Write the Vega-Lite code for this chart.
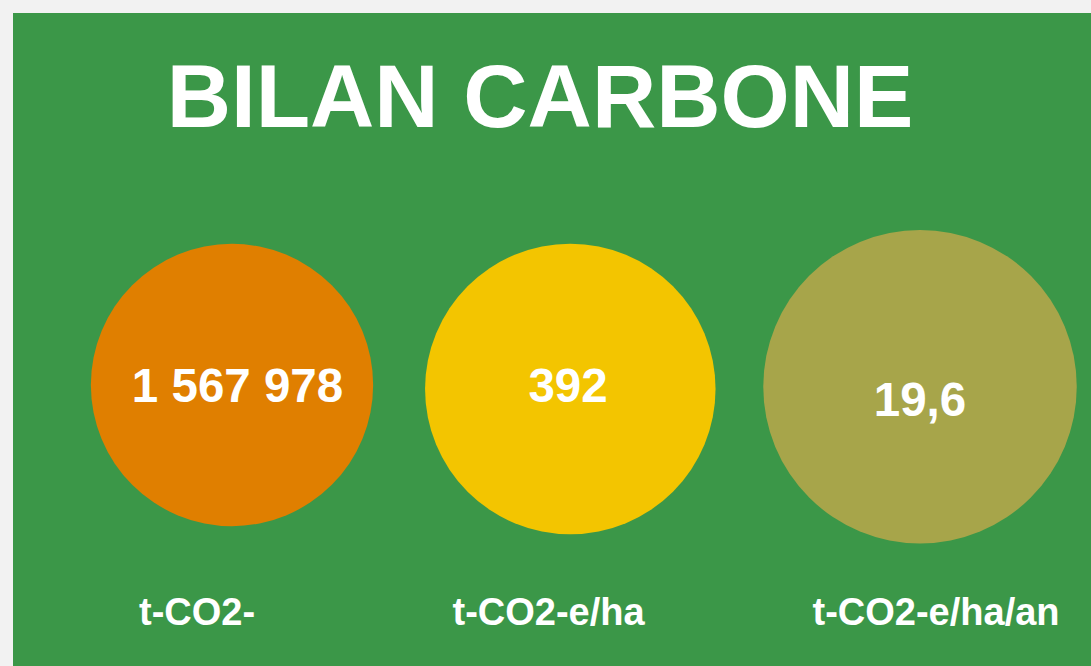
{
  "$schema": "https://vega.github.io/schema/vega-lite/v6.json",
  "width": 1078,
  "height": 653,
  "autosize": {"type": "none"},
  "padding": {"left": 13, "top": 13, "right": 0, "bottom": 0},
  "background": "#f2f2f2",
  "config": {
    "view": {"fill": "#3b9748", "stroke": null},
    "font": "Liberation Sans"
  },
  "title": {
    "text": "BILAN CARBONE",
    "orient": "top",
    "frame": "group",
    "anchor": "middle",
    "baseline": "alphabetic",
    "offset": -203,
    "dx": -12,
    "font": "Liberation Sans",
    "fontSize": 89,
    "fontWeight": "bold",
    "color": "#ffffff"
  },
  "data": {
    "values": [
      {"rang": 1, "valeur": "1 567 978", "unite": "t-CO2-\ne"},
      {"rang": 2, "valeur": "392", "unite": "t-CO2-e/ha"},
      {"rang": 3, "valeur": "19,6", "unite": "t-CO2-e/ha/an"}
    ]
  },
  "layer": [
    {
      "mark": {"type": "point", "shape": "circle", "filled": true, "opacity": 1, "strokeWidth": 0},
      "encoding": {
        "x": {"field": "rang", "type": "quantitative", "axis": null,
              "scale": {"domain": [1, 2, 3], "range": [219, 557.3, 907], "nice": false, "zero": false}},
        "y": {"field": "rang", "type": "quantitative", "axis": null,
              "scale": {"domain": [1, 2, 3], "range": [372, 376, 373.7], "nice": false, "zero": false}},
        "size": {"field": "rang", "type": "quantitative", "legend": null,
                 "scale": {"domain": [1, 2, 3], "range": [79693, 84390, 98282], "zero": false}},
        "color": {"field": "rang", "type": "nominal", "legend": null,
                  "scale": {"domain": [1, 2, 3], "range": ["#e07f00", "#f3c500", "#a7a54a"]}}
      }
    },
    {
      "mark": {"type": "text", "fontSize": 47.5, "fontWeight": "bold", "color": "#ffffff", "align": "center", "baseline": "alphabetic"},
      "encoding": {
        "x": {"field": "rang", "type": "quantitative", "axis": null,
              "scale": {"domain": [1, 2, 3], "range": [224.5, 555, 907], "nice": false, "zero": false}},
        "y": {"field": "rang", "type": "quantitative", "axis": null,
              "scale": {"domain": [1, 2, 3], "range": [388.7, 388.7, 403], "nice": false, "zero": false}},
        "text": {"field": "valeur", "type": "nominal"}
      }
    },
    {
      "mark": {"type": "text", "fontSize": 38, "fontWeight": "bold", "color": "#ffffff", "align": "left", "baseline": "alphabetic", "lineBreak": "\n", "lineHeight": 64},
      "encoding": {
        "x": {"field": "rang", "type": "quantitative", "axis": null,
              "scale": {"domain": [1, 2, 3], "range": [126, 439.5, 799.5], "nice": false, "zero": false}},
        "y": {"field": "rang", "type": "quantitative", "axis": null,
              "scale": {"domain": [1, 2, 3], "range": [612, 612, 612], "nice": false, "zero": false}},
        "text": {"field": "unite", "type": "nominal"}
      }
    }
  ],
  "resolve": {"scale": {"x": "independent", "y": "independent"}}
}
